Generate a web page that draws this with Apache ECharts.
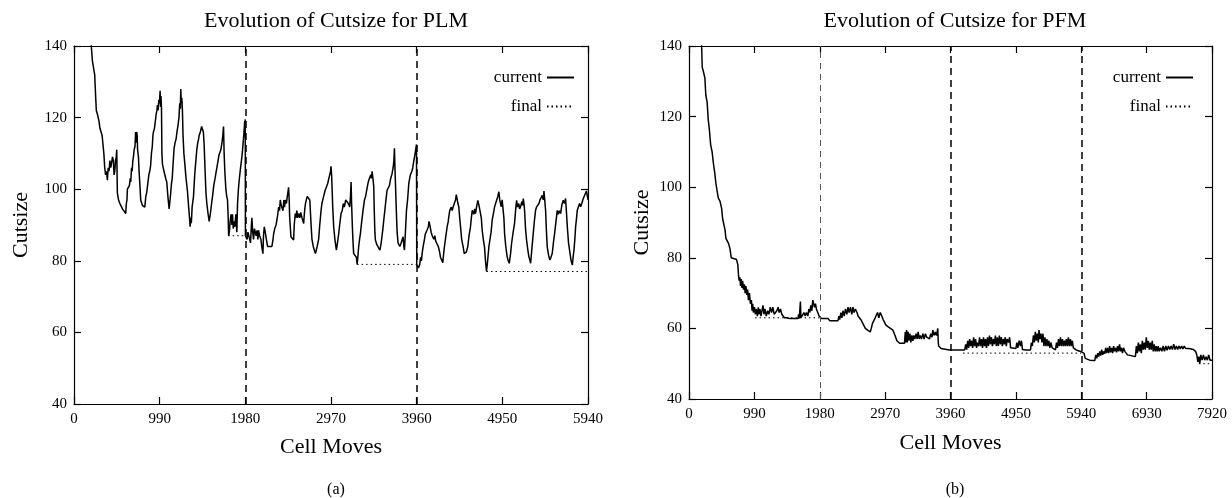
<!DOCTYPE html>
<html>
<head>
<meta charset="utf-8">
<script src="https://cdn.jsdelivr.net/npm/echarts@6/dist/echarts.min.js"></script>
<style>html,body{margin:0;padding:0;background:#fff}#c{width:1232px;height:498px}</style>
</head>
<body>
<div id="c"></div>
<script>
// ---- data: [cell moves, cutsize] ----
const plmCurrent = [
 [190,142],[200,140],[212,136],[225,134],[239,132],[250,126],[258,122],[270,121],[289,119],[300,117],[309,116.5],[325,115],[339,114.5],[345,110],[355,106],[365,104],[375,105],[386,102.5],[395,106],[405,105],[415,108],[425,106],[432,107],[445,109],[455,108],[463,104],[471,105],[480,108],[488,109],[494,111],[498,104],[501,99],[515,97],[530,96],[540,95.5],[560,94.5],[580,94],[598,93.2],[605,96],[612,97],[617,100],[630,99.5],[640,101],[650,103],[656,102],[665,106],[672,105],[680,108],[687,109],[695,111],[705,112],[712,116],[718,113],[725,116],[730,115],[735,111],[745,109],[752,105],[762,101],[771,97],[790,95.5],[805,96],[818,95],[830,98],[840,99],[850,101],[856,100.5],[865,104],[875,105],[885,106.5],[895,110],[905,112],[912,115],[918,116],[930,117],[940,119],[950,121],[958,122],[964,123.5],[972,122],[980,125],[988,124],[995,127.5],[1000,123],[1005,126],[1011,123],[1016,110],[1022,107],[1040,105],[1060,103],[1072,102],[1085,98],[1099,94.5],[1110,97],[1118,99],[1126,101.5],[1135,103],[1145,107],[1157,111.5],[1168,113],[1180,114],[1190,116],[1203,118],[1213,120],[1222,124],[1229,122.5],[1234,128],[1240,124],[1246,125.5],[1253,122],[1260,115],[1270,110],[1281,107],[1295,103],[1311,99.5],[1325,95],[1335,92],[1342,89.5],[1348,92],[1356,90.5],[1365,95],[1381,98],[1395,104],[1405,107],[1419,111],[1430,113],[1440,114],[1446,115],[1460,116],[1475,117.5],[1485,118],[1495,116],[1504,112.5],[1515,105],[1525,99],[1535,96],[1550,93],[1562,91],[1575,93],[1590,96],[1601,98],[1615,101],[1630,103],[1640,104.5],[1651,106],[1665,108],[1675,109.5],[1685,110],[1697,111],[1710,113],[1720,115],[1728,117.5],[1735,110],[1743,105],[1755,100],[1765,98],[1774,97],[1782,92],[1787,87],[1795,88],[1805,91],[1815,93],[1825,90],[1832,93],[1840,89],[1850,91],[1859,89.5],[1870,93],[1882,88],[1890,96],[1900,100],[1909,102.5],[1920,105],[1930,107],[1940,109],[1948,111],[1958,114],[1965,116],[1972,119],[1976,117],[1979,119.5],[1981,87],
 [1990,87],[2000,86],[2010,88],[2020,87.5],[2029,88],[2040,85],[2050,90],[2056,92],[2065,88],[2075,86],[2085,89],[2095,89.5],[2105,87],[2115,88.5],[2125,86],[2133,88.5],[2145,87],[2160,86],[2170,84],[2183,82],[2190,87],[2199,89.5],[2210,88],[2222,87.5],[2230,85],[2237,84],[2287,84],[2300,86],[2307,87.5],[2320,89],[2335,90],[2345,91.4],[2355,93],[2365,95],[2375,94],[2384,97],[2395,95.5],[2405,96],[2415,94],[2425,97],[2433,95],[2442,97],[2455,96],[2465,98],[2480,100.5],[2487,97],[2492,92.3],[2507,86.7],[2538,85.8],[2545,90],[2557,93.2],[2565,92],[2575,94],[2585,92],[2596,93.2],[2610,92],[2620,93.5],[2635,92],[2654,90.4],[2665,94],[2675,96],[2685,97],[2695,98],[2712,98.3],[2725,97],[2731,96.5],[2740,90],[2750,86],[2765,84],[2777,83],[2790,82],[2800,81.6],[2810,84],[2827,86],[2840,90],[2855,94],[2865,96],[2875,97],[2885,98],[2900,99.5],[2915,100],[2932,101.6],[2945,103],[2955,104],[2965,105],[2970,106.4],[2977,104],[2982,100.7],[2990,95],[3001,89.5],[3015,86],[3032,83],[3045,85],[3059,87.6],[3070,90],[3086,93.2],[3100,94],[3112,96],[3124,95],[3140,97],[3155,96.9],[3170,96],[3186,95],[3195,98],[3202,102],[3208,96],[3217,89.5],[3225,85],[3232,82],[3250,81.5],[3263,81],[3272,79],[3280,81],[3290,84],[3300,86],[3310,87.6],[3325,91],[3340,94],[3356,96.9],[3370,98],[3385,100],[3396,101.5],[3406,102.5],[3420,103],[3430,104],[3438,103],[3445,105],[3455,103],[3464,100.7],[3470,94],[3477,88],[3483,85.8],[3500,84.5],[3522,84],[3535,83],[3549,84.8],[3560,87],[3570,89],[3580,91.4],[3592,94],[3605,97],[3618,99.7],[3630,100],[3645,101],[3660,103],[3676,104.4],[3688,106],[3697,108],[3703,111.4],[3709,106],[3715,101.6],[3725,94],[3734,88],[3745,85],[3765,84],[3780,85],[3792,84.5],[3803,86.7],[3812,84],[3819,83],[3830,88],[3842,94],[3855,97],[3869,101.6],[3880,102],[3887,104],[3896,103.5],[3905,105],[3915,106],[3927,108],[3935,109],[3945,110.5],[3952,111],[3958,112.5],[3961,79],
 [3970,79],[3980,78],[3996,79],[4005,81],[4015,80],[4023,82],[4035,84],[4050,86],[4060,87.5],[4070,88],[4081,88.6],[4095,89.5],[4103,91],[4112,91.4],[4120,89],[4127,88],[4140,87],[4150,86.5],[4158,86],[4170,87],[4180,85.5],[4189,85],[4200,86],[4210,84],[4216,84],[4225,82.5],[4235,81],[4250,80.5],[4262,79.5],[4272,82],[4281,84],[4295,86.5],[4312,89.5],[4325,91],[4335,93],[4343,94.1],[4360,95],[4370,94],[4382,95.1],[4395,96],[4409,97],[4418,98.5],[4428,98.3],[4437,96],[4447,95.1],[4457,92],[4467,89.5],[4480,86],[4497,83.9],[4510,82],[4524,81.6],[4535,82.5],[4551,84],[4565,87],[4582,89.5],[4592,92],[4602,94.1],[4620,93],[4630,94.5],[4640,93.2],[4652,95],[4667,96.9],[4680,95.5],[4698,96],[4707,92],[4717,88.6],[4730,86],[4744,83.9],[4755,80],[4767,77],[4780,80],[4795,84],[4806,85.8],[4820,88],[4833,91.4],[4845,93],[4860,95],[4872,96],[4885,97],[4898,98],[4910,99.3],[4920,97],[4937,95.1],[4948,97],[4960,96.9],[4968,92],[4976,87.6],[4990,84],[5006,81.1],[5018,80],[5030,79.3],[5045,82],[5057,84.9],[5075,88],[5091,90.4],[5103,94],[5115,96.9],[5125,95],[5140,96],[5150,94.5],[5161,95.1],[5175,96.5],[5185,95.5],[5192,97.4],[5200,96],[5207,94.1],[5218,89],[5230,85.8],[5245,83],[5257,81.1],[5265,80.5],[5277,79.3],[5290,83],[5307,87.6],[5320,91],[5334,94.1],[5345,95],[5355,94.5],[5373,96],[5385,97],[5398,97.5],[5412,98.3],[5422,97],[5431,99.5],[5440,97],[5450,94.1],[5460,88],[5469,83.9],[5485,81.5],[5500,80.2],[5512,81],[5527,82.1],[5540,85],[5554,87.6],[5570,91],[5585,94.1],[5597,93],[5610,94],[5624,93.2],[5637,95.5],[5654,96.9],[5668,96],[5681,97.4],[5690,94],[5701,89.5],[5715,85],[5732,82.1],[5745,80],[5759,78.8],[5768,81],[5778,83],[5788,86],[5797,89.5],[5808,92],[5816,94.1],[5830,94.5],[5842,96],[5855,95.1],[5868,96],[5880,97],[5894,97.9],[5905,98],[5915,97.5],[5922,99.5],[5932,99.3],[5940,97]
];
const plmFinal = [[1782,87],[1980,87],[null,null],[3272,79],[3960,79],[null,null],[4767,77],[5940,77]];
const plmPassEnds = [1980,3960];

const pfmCurrent = [
 [190,141],[200,134],[215,133],[240,131],[255,126],[275,124],[292,119],[310,116],[328,112],[350,110],[368,107],[390,104],[408,101],[425,99],[443,97],[470,96],[494,94],[510,91],[529,90.6],[545,88],[559,85.5],[600,84],[620,82.6],[640,80],[720,79.5],[740,78],[750,75],[760,73.5],[770,74.5],[780,72],[790,74],[800,71.5],[812,73.5],[825,71],[838,72.5],[850,70],[862,72],[875,69.5],[888,71],[900,68],[915,70],[930,67],[945,68],[955,65],[965,67],[975,64.5],[990,66],[1005,64],[1020,65.5],[1035,63.5],[1050,66],[1062,64],[1075,65.5],[1090,63.5],[1105,64],[1120,66.5],[1135,64],[1150,65.5],[1170,63.5],[1190,65],[1210,64],[1230,66],[1250,64.5],[1270,66],[1290,64],[1310,63.5],[1330,65],[1350,66],[1365,64.5],[1385,65.5],[1405,64],[1425,64.5],[1445,63],[1476,63],[1526,62.8],[1650,62.8],[1660,64],[1670,62.8],[1687,67.6],[1695,63],[1720,63],[1740,64.5],[1760,63.5],[1778,64.5],[1800,63.5],[1815,65.5],[1830,64.5],[1845,66.5],[1860,65],[1875,68],[1889,68.5],[1900,66],[1915,67],[1929,65.5],[1950,64.5],[1970,63.5],[2005,62.8],[2105,62.8],[2131,62.2],[2256,62.2],[2270,63.5],[2282,62.5],[2300,64.5],[2315,63],[2332,65],[2350,63.5],[2370,65.5],[2390,64],[2408,66],[2425,64.5],[2445,66],[2465,64],[2483,66],[2500,64.5],[2520,65.5],[2544,64.5],[2560,63.5],[2580,63],[2609,62.3],[2630,61.5],[2650,61],[2670,60],[2685,60.5],[2705,59.5],[2725,60],[2745,59],[2760,60],[2780,61.5],[2800,62],[2820,63],[2836,62.5],[2855,64.5],[2875,63],[2896,64.5],[2920,63.5],[2940,62.5],[2962,62.5],[2980,61],[3000,61],[3012,60.5],[3050,60],[3088,59.5],[3120,58],[3148,56.5],[3189,55.8],[3264,55.8],[3275,59],[3285,56],[3295,59.5],[3305,56],[3318,59],[3330,56.5],[3345,58.5],[3360,56],[3375,58],[3390,56.5],[3405,58],[3420,57],[3440,58.5],[3455,57],[3470,59],[3485,57],[3500,58],[3520,57],[3541,58.5],[3560,57],[3580,58.5],[3600,57.5],[3620,58],[3642,57],[3660,58.5],[3680,57.5],[3692,59.5],[3710,58],[3730,59],[3750,58],[3767,60],[3775,56],[3781,55],[3817,54.3],[3945,53.9],[4175,53.9],
 [4190,55.5],[4205,54],[4220,56.5],[4235,54.5],[4250,57],[4265,55],[4280,56.5],[4295,54.5],[4310,57.5],[4325,55],[4340,57],[4355,54.5],[4370,56],[4385,55],[4400,57.5],[4415,55],[4430,57],[4445,54.5],[4460,57.5],[4475,55],[4490,57],[4505,54.5],[4520,57.5],[4535,55],[4550,58],[4565,55.5],[4580,57.5],[4595,55],[4610,57],[4625,55.5],[4640,58],[4655,55],[4670,57.5],[4685,55],[4700,58],[4715,55.5],[4730,57.5],[4745,55],[4760,57],[4775,55.5],[4790,57.5],[4805,55],[4820,57],[4840,56],[4855,57.5],[4870,54.5],[4891,54.3],[4950,54.3],[4965,56],[4980,54.5],[5000,56.5],[5019,55],[5035,56.5],[5050,54],[5070,54],[5096,53.9],[5172,53.9],[5185,56],[5200,55],[5215,58],[5230,56],[5245,59],[5260,56.5],[5275,58.5],[5290,56],[5300,59.5],[5315,57],[5330,58.5],[5345,56],[5360,58.5],[5375,55],[5390,57.5],[5405,55],[5420,57],[5435,55],[5450,56.5],[5465,54.5],[5480,56],[5500,54.5],[5520,54],[5550,53.9],[5565,56],[5580,54.5],[5595,57],[5610,55],[5625,57.5],[5640,55],[5655,57],[5670,55],[5685,56.5],[5700,55],[5715,57],[5730,55],[5745,57.5],[5760,55],[5775,57],[5790,55],[5805,56.5],[5820,54.5],[5835,55],[5863,53.9],[5940,53.4],[5983,52.9],[6000,51.5],[6017,51],[6068,51],[6145,50.9],
 [6160,52.5],[6175,51.5],[6190,53],[6205,52],[6220,53.5],[6235,52.3],[6250,54],[6265,52.5],[6280,53.5],[6295,52.8],[6310,54.5],[6325,53],[6340,54.5],[6355,53],[6370,55],[6385,53.2],[6400,54.5],[6415,53],[6430,55],[6445,53.5],[6460,54.5],[6475,53.2],[6490,55],[6505,53.5],[6520,55.5],[6535,53.5],[6550,54.5],[6565,53],[6580,54.5],[6600,53.5],[6620,53.5],[6640,52.5],[6670,52],[6760,52],[6775,55],[6790,53],[6805,56],[6820,53.5],[6835,55.5],[6850,53],[6865,56.5],[6880,54],[6895,56],[6910,54],[6925,57.5],[6940,54.5],[6955,56.5],[6970,54],[6985,56],[7000,54],[7015,56.5],[7030,53.5],[7045,55.5],[7060,53.5],[7075,55],[7090,53.5],[7105,55],[7120,53.5],[7140,54.5],[7160,53.5],[7180,55],[7200,53.5],[7220,55],[7240,53.8],[7260,55],[7280,54],[7300,55],[7320,54],[7340,55.5],[7360,54],[7380,55],[7400,54],[7420,55],[7440,54.2],[7460,55],[7480,54.2],[7500,55],[7520,54.3],[7540,54.8],[7570,54.3],[7600,54.5],[7640,54],[7671,53.5],[7690,52.5],[7705,50.5],[7720,52],[7735,50],[7750,52.5],[7770,51],[7790,52.5],[7810,51],[7830,52],[7850,51],[7870,52.5],[7890,51],[7920,51]
];
const pfmFinal = [[1000,63],[1980,63],[null,null],[4150,53],[5940,53],[null,null],[7720,50],[7920,50]];
const pfmPassEnds = [1980,3960,5940];

const yTicks = {min:40, max:140, step:20};
const xStep = 990;
// ---------------------------------------

const FONT = "'Liberation Serif','DejaVu Serif',serif";
const black = '#000';

function axesFor(gi, xmax, gap){
  const base = {gridIndex:gi, type:'value', min:0, max:xmax, interval:xStep,
    splitLine:{show:false},
    axisLine:{show:true, onZero:false, lineStyle:{color:black, width:1.2}},
    axisTick:{show:true, inside:true, length:7, lineStyle:{color:black, width:1.2}}};
  return [
    Object.assign({}, base, {position:'bottom',
      axisLabel:{color:black, fontFamily:FONT, fontSize:15, margin:8, formatter:v=>String(v)},
      name:'Cell Moves', nameLocation:'middle', nameGap:gap,
      nameTextStyle:{color:black, fontFamily:FONT, fontSize:22, verticalAlign:'top'}}),
    Object.assign({}, base, {position:'top', axisLabel:{show:false}})
  ];
}
function yaxesFor(gi, gap){
  const base = {gridIndex:gi, type:'value', min:yTicks.min, max:yTicks.max, interval:yTicks.step,
    splitLine:{show:false},
    axisLine:{show:true, onZero:false, lineStyle:{color:black, width:1.2}},
    axisTick:{show:true, inside:true, length:7, lineStyle:{color:black, width:1.2}}};
  return [
    Object.assign({}, base, {position:'left',
      axisLabel:{color:black, fontFamily:FONT, fontSize:15, margin:7},
      name:'Cutsize', nameLocation:'middle', nameGap:gap, nameRotate:90,
      nameTextStyle:{color:black, fontFamily:FONT, fontSize:22}}),
    Object.assign({}, base, {position:'right', axisLabel:{show:false}})
  ];
}

function markLines(ends, firstLight){
  return {symbol:['none','none'], silent:true, label:{show:false},
    lineStyle:{color:black, type:[7,5], width:1.5},
    data: ends.map((v,i)=>{
      const d = {xAxis:v};
      if (firstLight && i===0) d.lineStyle = {color:'#555', type:[6,5], width:1};
      return d;
    })};
}

const legendBase = {data:['current','final'], orient:'vertical', align:'right', top:64,
  itemWidth:27, itemHeight:14, itemGap:12,
  itemStyle:{opacity:0, borderWidth:0},
  textStyle:{fontFamily:FONT, fontSize:17, color:black}};

const titleStyle = {fontFamily:FONT, fontSize:22, fontWeight:'normal', color:black};
const capStyle = {fontFamily:FONT, fontSize:16, fontWeight:'normal', color:black};

const chart = echarts.init(document.getElementById('c'), null, {renderer:'canvas'});
chart.setOption({
  animation:false,
  backgroundColor:'#fff',
  title:[
    {text:'Evolution of Cutsize for PLM', left:331, top:5, textAlign:'center', textStyle:titleStyle},
    {text:'Evolution of Cutsize for PFM', left:950, top:5, textAlign:'center', textStyle:titleStyle},
    {text:'(a)', left:331, top:477, textAlign:'center', textStyle:capStyle},
    {text:'(b)', left:950, top:477, textAlign:'center', textStyle:capStyle}
  ],
  legend:[
    Object.assign({}, legendBase, {right:652}),
    Object.assign({}, legendBase, {right:33})
  ],
  grid:[
    {left:74, right:644, top:46, bottom:94},
    {left:689, right:20, top:46, bottom:99}
  ],
  xAxis:[...axesFor(0,5940,32), ...axesFor(1,7920,33)],
  yAxis:[...yaxesFor(0,42), ...yaxesFor(1,36)],
  series:[
    {name:'current', type:'line', xAxisIndex:0, yAxisIndex:0, data:plmCurrent,
     showSymbol:false, symbol:'none', lineStyle:{color:black, width:1.5}, itemStyle:{color:black},
     markLine:markLines(plmPassEnds,false)},
    {name:'final', type:'line', xAxisIndex:0, yAxisIndex:0, data:plmFinal,
     showSymbol:false, symbol:'none', connectNulls:false,
     lineStyle:{color:black, width:1, type:[1.5,3]}, itemStyle:{color:black}},
    {name:'current', type:'line', xAxisIndex:2, yAxisIndex:2, data:pfmCurrent,
     showSymbol:false, symbol:'none', lineStyle:{color:black, width:1.5}, itemStyle:{color:black},
     markLine:markLines(pfmPassEnds,true)},
    {name:'final', type:'line', xAxisIndex:2, yAxisIndex:2, data:pfmFinal,
     showSymbol:false, symbol:'none', connectNulls:false,
     lineStyle:{color:black, width:1, type:[1.5,3]}, itemStyle:{color:black}}
  ]
});
</script>
</body>
</html>
